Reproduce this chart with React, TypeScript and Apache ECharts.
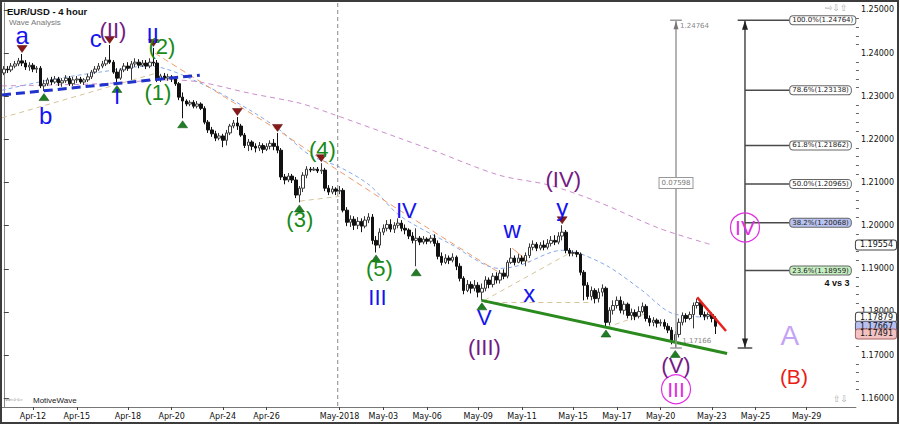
import React, { useEffect, useRef } from 'react';
import * as echarts from 'echarts';

// ---------- time axis ----------
const days = ['Apr-10','Apr-11','Apr-12','Apr-13','Apr-15','Apr-16','Apr-17','Apr-18','Apr-19','Apr-20','Apr-22','Apr-23','Apr-24','Apr-25','Apr-26','Apr-27','Apr-29','Apr-30','May-2018','May-02','May-03','May-04','May-06','May-07','May-08','May-09','May-10','May-11','May-13','May-14','May-15','May-16','May-17','May-18','May-20','May-21','May-22','May-23','May-24','May-25','May-27','May-28','May-29','May-30','May-31'];
const barsPerDay = [2,6,6,6,2,6,6,6,6,6,2,6,6,6,6,6,2,6,6,6,6,6,2,6,6,6,6,6,2,6,6,6,6,6,2,6,6,6,6,6,2,6,6,6,6];
const axisDays = ['Apr-12','Apr-15','Apr-18','Apr-20','Apr-24','Apr-26','May-2018','May-03','May-06','May-09','May-11','May-15','May-17','May-20','May-23','May-25','May-29'];
const N_CAT = 234;

// ---------- price axis ----------
const Y_MIN = 1.15798;
const Y_MAX = 1.25162;
const majorTicks = [1.16,1.17,1.18,1.19,1.2,1.21,1.22,1.23,1.24,1.25];
const minorTicks = [1.162,1.164,1.166,1.168,1.172,1.174,1.176,1.178,1.182,1.184,1.186,1.188,1.192,1.194,1.196,1.198,1.202,1.204,1.206,1.208,1.212,1.214,1.216,1.218,1.222,1.224,1.226,1.228,1.232,1.234,1.236,1.238,1.242,1.244,1.246,1.248];
const priceTags = [1.19554, 1.17879, 1.17667, 1.17491];
const tagFill = ['#ffffff', '#ffffff', '#b8c0f2', '#f3c3c3'];
const tagStroke = ['#444444', '#444444', '#555566', '#aa6666'];

// ---------- candles: [open, close, low, high] ----------
const candles = [
[1.2354,1.2363,1.2349,1.2370],[1.2363,1.2361,1.2354,1.2370],[1.2361,1.2370,1.2356,1.2377],[1.2370,1.2375,1.2365,1.2382],
[1.2375,1.2382,1.2370,1.2389],[1.2382,1.2377,1.2370,1.2398],[1.2377,1.2368,1.2361,1.2384],[1.2368,1.2372,1.2359,1.2379],
[1.2372,1.2363,1.2356,1.2377],[1.2363,1.2365,1.2354,1.2370],[1.2365,1.2324,1.2319,1.2370],[1.2324,1.2329,1.2312,1.2338],
[1.2329,1.2338,1.2324,1.2343],[1.2338,1.2333,1.2326,1.2345],[1.2333,1.2340,1.2329,1.2347],[1.2340,1.2331,1.2324,1.2345],
[1.2331,1.2336,1.2322,1.2342],[1.2336,1.2342,1.2331,1.2349],[1.2342,1.2329,1.2324,1.2347],[1.2329,1.2338,1.2324,1.2345],
[1.2338,1.2340,1.2331,1.2347],[1.2340,1.2333,1.2329,1.2345],[1.2333,1.2338,1.2326,1.2342],[1.2338,1.2345,1.2333,1.2352],
[1.2345,1.2356,1.2340,1.2361],[1.2356,1.2363,1.2352,1.2370],[1.2363,1.2370,1.2359,1.2377],[1.2370,1.2375,1.2365,1.2382],
[1.2375,1.2384,1.2370,1.2391],[1.2384,1.2379,1.2375,1.2419],[1.2379,1.2356,1.2352,1.2384],[1.2356,1.2342,1.2331,1.2365],
[1.2342,1.2361,1.2338,1.2365],[1.2361,1.2370,1.2356,1.2377],[1.2370,1.2365,1.2359,1.2379],[1.2365,1.2375,1.2338,1.2382],
[1.2375,1.2379,1.2368,1.2388],[1.2379,1.2372,1.2365,1.2386],[1.2372,1.2377,1.2368,1.2384],[1.2377,1.2370,1.2363,1.2384],
[1.2370,1.2379,1.2365,1.2388],[1.2379,1.2377,1.2370,1.2412],[1.2377,1.2338,1.2333,1.2384],[1.2338,1.2347,1.2333,1.2352],
[1.2347,1.2342,1.2338,1.2354],[1.2342,1.2345,1.2336,1.2352],[1.2345,1.2340,1.2333,1.2349],[1.2340,1.2329,1.2324,1.2347],
[1.2329,1.2298,1.2291,1.2333],[1.2298,1.2289,1.2249,1.2309],[1.2289,1.2282,1.2277,1.2293],[1.2282,1.2286,1.2277,1.2291],
[1.2286,1.2277,1.2272,1.2291],[1.2277,1.2282,1.2272,1.2289],[1.2282,1.2272,1.2268,1.2286],[1.2272,1.2240,1.2235,1.2277],
[1.2240,1.2222,1.2215,1.2245],[1.2222,1.2213,1.2206,1.2229],[1.2213,1.2203,1.2196,1.2220],[1.2203,1.2208,1.2198,1.2215],
[1.2208,1.2198,1.2182,1.2213],[1.2198,1.2215,1.2186,1.2222],[1.2215,1.2231,1.2210,1.2236],[1.2231,1.2238,1.2226,1.2245],
[1.2238,1.2231,1.2222,1.2252],[1.2231,1.2210,1.2206,1.2236],[1.2210,1.2186,1.2180,1.2215],[1.2186,1.2194,1.2173,1.2201],
[1.2194,1.2184,1.2175,1.2198],[1.2184,1.2180,1.2170,1.2191],[1.2180,1.2186,1.2173,1.2194],[1.2186,1.2177,1.2168,1.2191],
[1.2177,1.2184,1.2173,1.2191],[1.2184,1.2191,1.2177,1.2198],[1.2191,1.2184,1.2175,1.2201],[1.2184,1.2175,1.2168,1.2215],
[1.2175,1.2113,1.2106,1.2180],[1.2113,1.2106,1.2096,1.2120],[1.2106,1.2115,1.2101,1.2122],[1.2115,1.2106,1.2099,1.2120],
[1.2106,1.2071,1.2064,1.2113],[1.2071,1.2087,1.2054,1.2092],[1.2087,1.2117,1.2078,1.2124],[1.2117,1.2131,1.2110,1.2138],
[1.2131,1.2129,1.2124,1.2136],[1.2129,1.2131,1.2127,1.2136],[1.2131,1.2127,1.2122,1.2136],[1.2127,1.2129,1.2120,1.2145],
[1.2129,1.2087,1.2080,1.2134],[1.2087,1.2078,1.2071,1.2094],[1.2078,1.2085,1.2073,1.2092],[1.2085,1.2080,1.2071,1.2089],
[1.2080,1.2082,1.2073,1.2092],[1.2082,1.2036,1.2031,1.2087],[1.2036,1.2008,1.1999,1.2043],[1.2008,1.2015,1.1997,1.2024],
[1.2015,1.2001,1.1990,1.2022],[1.2001,1.2010,1.1992,1.2020],[1.2010,1.1999,1.1985,1.2017],[1.1999,1.2013,1.1994,1.2022],
[1.2013,1.2020,1.2006,1.2029],[1.2020,1.1966,1.1957,1.2027],[1.1966,1.1955,1.1938,1.1976],[1.1955,1.1985,1.1948,1.1994],
[1.1985,1.1994,1.1978,1.2003],[1.1994,1.2003,1.1987,1.2013],[1.2003,1.1992,1.1985,1.2015],[1.1992,1.2001,1.1983,1.2008],
[1.2001,1.2006,1.1994,1.2017],[1.2006,1.1994,1.1987,1.2013],[1.1994,1.1990,1.1980,1.2003],[1.1990,1.1976,1.1969,1.1994],
[1.1976,1.1966,1.1959,1.1985],[1.1966,1.1971,1.1906,1.1994],[1.1971,1.1962,1.1955,1.1976],[1.1962,1.1969,1.1957,1.1976],
[1.1969,1.1964,1.1957,1.1973],[1.1964,1.1971,1.1959,1.1978],[1.1971,1.1959,1.1952,1.1980],[1.1959,1.1929,1.1922,1.1966],
[1.1929,1.1915,1.1908,1.1938],[1.1915,1.1925,1.1911,1.1934],[1.1925,1.1920,1.1911,1.1931],[1.1920,1.1927,1.1915,1.1936],
[1.1927,1.1906,1.1897,1.1931],[1.1906,1.1878,1.1871,1.1913],[1.1878,1.1850,1.1841,1.1883],[1.1850,1.1864,1.1846,1.1874],
[1.1864,1.1855,1.1843,1.1871],[1.1855,1.1862,1.1848,1.1874],[1.1862,1.1846,1.1834,1.1869],[1.1846,1.1855,1.1827,1.1866],
[1.1855,1.1874,1.1848,1.1883],[1.1874,1.1864,1.1855,1.1880],[1.1864,1.1883,1.1857,1.1890],[1.1883,1.1874,1.1866,1.1892],
[1.1874,1.1890,1.1866,1.1897],[1.1890,1.1883,1.1876,1.1899],[1.1883,1.1915,1.1878,1.1920],[1.1915,1.1925,1.1911,1.1948],
[1.1925,1.1915,1.1908,1.1931],[1.1915,1.1925,1.1913,1.1934],[1.1925,1.1918,1.1911,1.1931],[1.1918,1.1931,1.1906,1.1938],
[1.1931,1.1950,1.1925,1.1959],[1.1950,1.1957,1.1943,1.1966],[1.1957,1.1948,1.1941,1.1962],[1.1948,1.1955,1.1943,1.1962],
[1.1955,1.1950,1.1943,1.1966],[1.1950,1.1959,1.1945,1.1969],[1.1959,1.1966,1.1952,1.1976],[1.1966,1.1962,1.1955,1.1978],
[1.1962,1.1976,1.1957,1.1985],[1.1976,1.1985,1.1966,1.2001],[1.1985,1.1943,1.1936,1.1990],[1.1943,1.1936,1.1929,1.1948],
[1.1936,1.1938,1.1929,1.1943],[1.1938,1.1934,1.1927,1.1943],[1.1934,1.1892,1.1885,1.1938],[1.1892,1.1862,1.1827,1.1897],
[1.1862,1.1836,1.1829,1.1869],[1.1836,1.1850,1.1827,1.1859],[1.1850,1.1831,1.1820,1.1855],[1.1831,1.1846,1.1822,1.1855],
[1.1846,1.1855,1.1836,1.1864],[1.1855,1.1776,1.1764,1.1859],[1.1776,1.1804,1.1769,1.1811],[1.1804,1.1815,1.1794,1.1827],
[1.1815,1.1827,1.1808,1.1836],[1.1827,1.1804,1.1797,1.1836],[1.1804,1.1818,1.1794,1.1825],[1.1818,1.1792,1.1785,1.1822],
[1.1792,1.1799,1.1781,1.1808],[1.1799,1.1790,1.1781,1.1806],[1.1790,1.1801,1.1785,1.1813],[1.1801,1.1813,1.1797,1.1822],
[1.1813,1.1785,1.1778,1.1818],[1.1785,1.1776,1.1767,1.1792],[1.1776,1.1781,1.1767,1.1788],[1.1781,1.1774,1.1764,1.1785],
[1.1774,1.1776,1.1767,1.1783],[1.1776,1.1767,1.1760,1.1783],[1.1767,1.1758,1.1751,1.1774],[1.1758,1.1734,1.1725,1.1765],
[1.1734,1.1748,1.1717,1.1755],[1.1748,1.1776,1.1741,1.1785],[1.1776,1.1792,1.1769,1.1799],[1.1792,1.1785,1.1776,1.1797],
[1.1785,1.1794,1.1781,1.1801],[1.1794,1.1815,1.1762,1.1822],[1.1815,1.1822,1.1808,1.1831],[1.1822,1.1794,1.1788,1.1827],
[1.1794,1.1790,1.1781,1.1801],[1.1790,1.1794,1.1783,1.1799],[1.1794,1.1785,1.1776,1.1799],[1.1785,1.1767,1.1749,1.1790],
];

// ---------- overlay lines: [bar position, price] ----------
const maSlow = [[-0.5,1.2324],[26.3,1.2329],[45.5,1.2338],[53.7,1.2333],[67.4,1.2307],[81.1,1.2284],[89.3,1.2261],[108.4,1.2203],[117.5,1.2175],[135.8,1.2117],[149.5,1.2094],[163.2,1.2054],[179.6,1.1994],[194.1,1.19554]];
const maFast = [[-0.5,1.2314],[12.6,1.2338],[26.3,1.2356],[40.0,1.2370],[53.7,1.2331],[67.4,1.2268],[75.6,1.2222],[83.8,1.2164],[92.0,1.2136],[100.2,1.2094],[108.4,1.2024],[122.1,1.1959],[135.8,1.1901],[141.3,1.1908],[153.0,1.1943],[157.7,1.1936],[165.9,1.1904],[174.9,1.1850],[183.1,1.1797],[194.1,1.17879]];
const maOrange = [[41.4,1.2400],[61.9,1.2291],[75.0,1.2222],[87.3,1.2152],[108.4,1.2036],[137.7,1.1881]];
const waveLinks = [
  [[-0.5,1.2250],[42.7,1.2356]],
  [[81.1,1.2057],[92.0,1.2068]],
  [[131.7,1.1827],[154.9,1.1936]],
  [[131.7,1.1822],[160.4,1.1822]],
  [[165.1,1.1764],[176.8,1.1799]],
];
const wLink = [[139.3,1.1948],[144.0,1.1915]];
const trendBlue = [[-0.5,1.2303],[53.7,1.2349]];
const trendGreen = [[130.9,1.1827],[198.2,1.1704]];
const trendRed = [[190.0,1.1834],[197.9,1.1756]];
const monthBreak = 91.5;

// ---------- wave markers ----------
const peakMarks = [[5,1.2398],[29,1.2419],[41,1.2412],[64,1.2252],[75,1.2215],[87,1.2145],[153,1.2001]];
const troughMarks = [[11,1.2312],[31,1.2331],[49,1.2249],[81,1.2054],[102,1.1938],[113,1.1906],[131,1.1827],[165,1.1764],[184,1.17166]];

// ---------- wave labels: text, bar position, price, colour, size ----------
const waveLabels: [string, number, number, string, number][] = [
  ['a', 5.0, 1.2440, 'blue', 24],
  ['b', 11.5, 1.2256, 'blue', 24],
  ['c', 25.2, 1.2435, 'blue', 24],
  ['(II)', 29.9, 1.2452, 'purple', 22],
  ['II', 40.8, 1.2440, 'blue', 22],
  ['(2)', 43.3, 1.2416, 'green', 22],
  ['I', 31.0, 1.2300, 'blue', 22],
  ['(1)', 42.2, 1.2309, 'green', 22],
  ['(3)', 81.1, 1.2015, 'green', 22],
  ['(4)', 87.3, 1.2177, 'green', 22],
  ['(5)', 102.9, 1.1901, 'green', 22],
  ['III', 102.4, 1.1834, 'blue', 22],
  ['IV', 110.3, 1.2036, 'blue', 22],
  ['V', 131.7, 1.1788, 'blue', 22],
  ['(III)', 131.7, 1.1718, 'purple', 22],
  ['w', 139.3, 1.1992, 'blue', 24],
  ['x', 144.0, 1.1844, 'blue', 24],
  ['y', 153.0, 1.2043, 'blue', 24],
  ['(IV)', 153.3, 1.2108, 'purple', 22],
  ['(V)', 184.2, 1.1676, 'purple', 22],
  ['A', 215.4, 1.1746, 'lilac', 28],
  ['(B)', 216.5, 1.1651, 'red', 21],
];
const circledLabels: [string, number, number][] = [['III', 184.2, 1.1621], ['IV', 203.1, 1.1996]];

// ---------- fibonacci & measure ----------
const fibHigh = 1.24764;
const fibLow = 1.17166;
const fibLevels = [1.24764, 1.23138, 1.21862, 1.20965, 1.20068, 1.18959];
const fibPct = ['100.0%', '78.6%', '61.8%', '50.0%', '38.2%', '23.6%'];
const fibBg = ['#ffffff', '#ffffff', '#ffffff', '#ffffff', '#b9c3f1', '#c6f0c2'];
const fibX = 203.1;
const fibEndX = 215.2;
const measureX = 184.2;
const measureRange = '0.07598';

const COLORS: Record<string, string> = {
  blue: '#1414ee', purple: '#741a84', green: '#178a17', magenta: '#e02ee0', lilac: '#c4a2f4', red: '#ea1c18',
};
const FONT = "'Liberation Sans', Arial, sans-serif";
const SMALL = "'DejaVu Sans', Verdana, sans-serif";
const CLEAR = { color: 'rgba(0,0,0,0)', opacity: 1 };

function buildOption() {
  const categories: string[] = [];
  days.forEach((d, k) => { for (let h = 0; h < barsPerDay[k]; h++) categories.push(d + ' ' + h); });
  categories.length = N_CAT;
  const labelIdx = new Set<number>();
  categories.forEach((c, i) => { const [d, h] = c.split(' '); if (h === '0' && axisDays.includes(d)) labelIdx.add(i); });
  const showIdx = (i: number) => labelIdx.has(i);

  const seg = (data: number[][], color: string, width: number, type: any, z = 3, smooth: any = false) => ({
    type: 'line', xAxisIndex: 1, yAxisIndex: 0, data, showSymbol: false, symbol: 'none', smooth, silent: true, z,
    lineStyle: { color, width, type, opacity: 1 }, emphasis: { disabled: true },
  });

  const series: any[] = [];
  series.push(seg(maSlow, '#cc8ccc', 1, [5, 4], 1, 0.3));
  series.push(seg(maFast, '#86a9ea', 1, [4, 3], 1, 0.3));
  series.push(seg(maOrange, '#f09a68', 1, [6, 4], 1, 0.2));
  waveLinks.forEach((l) => series.push(seg(l, '#d6c59a', 1, [5, 4], 1)));
  series.push(seg(wLink, '#f0a070', 1, 'solid', 1));
  series.push(seg([[monthBreak, Y_MAX], [monthBreak, Y_MIN]], '#8a8a8a', 1, [4, 3], 1));

  series.push({
    type: 'candlestick', xAxisIndex: 0, yAxisIndex: 0, data: candles, barWidth: 3, z: 2, silent: true,
    itemStyle: { color: '#ffffff', color0: '#111111', borderColor: '#3a3a3a', borderColor0: '#111111', borderWidth: 1 },
  });

  series.push(seg(trendBlue, '#1f33cc', 3, [9, 5], 4));
  series.push(seg(trendGreen, '#2a8a1e', 3, 'solid', 4));
  series.push(seg(trendRed, '#e8211d', 2.5, 'solid', 4));

  series.push(seg([[measureX, fibHigh], [measureX, fibLow]], '#9a9a9a', 1.5, 'solid', 4));
  series.push(seg([[measureX - 1.6, fibHigh], [measureX + 1.6, fibHigh]], '#9a9a9a', 1.5, 'solid', 4));
  series.push(seg([[measureX - 1.6, fibLow], [measureX + 1.6, fibLow]], '#9a9a9a', 1.5, 'solid', 4));
  series.push(seg([[fibX, fibHigh], [fibX, fibLow]], '#4a4a4a', 1.5, 'solid', 4));
  series.push(seg([[fibX - 2, fibLow], [fibX + 2, fibLow]], '#4a4a4a', 1.5, 'solid', 4));
  fibLevels.forEach((lv, k) => {
    const x0 = k === 0 ? fibX - 2 : fibX;
    series.push(seg([[x0, lv], [fibEndX, lv]], '#4a4a4a', 1.5, 'solid', 4));
  });
  series.push({ type: 'scatter', xAxisIndex: 1, yAxisIndex: 0, silent: true, z: 5, symbol: 'triangle', symbolSize: [6, 9], symbolOffset: [0, 5],
    data: [[fibX, fibHigh]], itemStyle: { color: '#222', opacity: 1 } });
  series.push({ type: 'scatter', xAxisIndex: 1, yAxisIndex: 0, silent: true, z: 5, symbol: 'triangle', symbolSize: [6, 9], symbolOffset: [0, -5], symbolRotate: 180,
    data: [[fibX, fibLow]], itemStyle: { color: '#222', opacity: 1 } });
  series.push({ type: 'scatter', xAxisIndex: 1, yAxisIndex: 0, silent: true, z: 5, symbol: 'triangle', symbolSize: [5, 8], symbolOffset: [0, 5],
    data: [[measureX, fibHigh]], itemStyle: { color: '#777', opacity: 1 } });

  series.push({
    type: 'scatter', xAxisIndex: 1, yAxisIndex: 0, silent: true, z: 6, symbolSize: 0.1, itemStyle: CLEAR,
    data: fibLevels.map((lv, k) => ({
      value: [fibEndX, lv],
      label: {
        show: true, position: 'right', distance: 1, formatter: fibPct[k] + '(' + lv.toFixed(5) + ')',
        fontFamily: SMALL, fontSize: 7, color: '#222', backgroundColor: fibBg[k], borderColor: '#666', borderWidth: 1,
        borderRadius: 3, padding: [1, 2, 0, 2],
      },
    })),
  });

  series.push({
    type: 'scatter', xAxisIndex: 1, yAxisIndex: 0, silent: true, z: 6, symbolSize: 0.1, itemStyle: CLEAR,
    data: [
      { value: [185.3, 1.2463], label: { show: true, position: 'right', distance: 0, formatter: fibHigh.toFixed(5), fontFamily: SMALL, fontSize: 7, color: '#888' } },
      { value: [185.9, 1.1732], label: { show: true, position: 'right', distance: 0, formatter: fibLow.toFixed(5), fontFamily: SMALL, fontSize: 7, color: '#888' } },
      { value: [measureX, 1.2099], label: { show: true, position: 'inside', formatter: measureRange, fontFamily: SMALL, fontSize: 7, color: '#777',
        backgroundColor: '#fff', borderColor: '#999', borderWidth: 1, padding: [2, 2, 1, 2] } },
      { value: [228.3, 1.1867], label: { show: true, position: 'inside', formatter: '4 vs 3', fontFamily: FONT, fontSize: 9, fontWeight: 'bold', color: '#111' } },
    ],
  });

  series.push({ type: 'scatter', xAxisIndex: 1, yAxisIndex: 0, silent: true, z: 6, symbol: 'triangle', symbolSize: [10, 7], symbolOffset: [0, -5], symbolRotate: 180,
    data: peakMarks, itemStyle: { color: '#861818', borderColor: '#5a0f0f', borderWidth: 0.5, opacity: 1 } });
  series.push({ type: 'scatter', xAxisIndex: 1, yAxisIndex: 0, silent: true, z: 6, symbol: 'triangle', symbolSize: [10, 7], symbolOffset: [0, 6],
    data: troughMarks, itemStyle: { color: '#1f7d24', borderColor: '#0f4d12', borderWidth: 0.5, opacity: 1 } });

  series.push({
    type: 'scatter', xAxisIndex: 1, yAxisIndex: 0, silent: true, z: 7, symbolSize: 0.1, itemStyle: CLEAR,
    data: waveLabels.map(([t, x, y, c, s]) => ({
      value: [x, y],
      label: { show: true, position: 'inside', formatter: t, fontFamily: FONT, fontSize: s, lineHeight: Math.round(s * 0.6), color: COLORS[c] },
    })),
  });
  series.push({
    type: 'scatter', xAxisIndex: 1, yAxisIndex: 0, silent: true, z: 7, symbol: 'circle', symbolSize: 29,
    itemStyle: { color: 'rgba(255,255,255,0)', borderColor: COLORS.magenta, borderWidth: 1.2, opacity: 1 },
    data: circledLabels.map(([t, x, y]) => ({
      value: [x, y],
      label: { show: true, position: 'inside', formatter: t, fontFamily: FONT, fontSize: 21, lineHeight: 15, color: COLORS.magenta },
    })),
  });

  const tagAxes = priceTags.map((v, k) => ({
    type: 'value', position: 'right', min: Y_MIN, max: Y_MAX,
    axisLine: { show: false }, axisTick: { show: false }, splitLine: { show: false },
    axisLabel: {
      show: true, customValues: [v], margin: 0, formatter: (x: number) => x.toFixed(5),
      backgroundColor: tagFill[k], borderColor: tagStroke[k], borderWidth: 1, borderRadius: 2, padding: [1, 3, 0, 4],
      fontFamily: SMALL, fontSize: 8, lineHeight: 8, color: '#111',
    },
  }));

  return {
    animation: false,
    backgroundColor: '#ffffff',
    grid: { left: 2, right: 43, top: 3, bottom: 18, containLabel: false },
    xAxis: [
      {
        type: 'category', data: categories, boundaryGap: true, position: 'bottom',
        axisLine: { show: true, lineStyle: { color: '#777', width: 1 } },
        axisTick: { show: true, alignWithLabel: true, interval: showIdx, length: 3, lineStyle: { color: '#444' } },
        axisLabel: { show: true, interval: showIdx, formatter: (v: string) => v.split(' ')[0], fontFamily: SMALL, fontSize: 8, color: '#111', margin: 5 },
        splitLine: { show: false },
      },
      { type: 'value', min: -0.5, max: N_CAT - 0.5, show: false, position: 'top' },
    ],
    yAxis: [
      {
        type: 'value', position: 'right', min: Y_MIN, max: Y_MAX,
        axisLine: { show: true, lineStyle: { color: '#888', width: 1 } },
        axisTick: { show: true, customValues: majorTicks, length: 5, lineStyle: { color: '#444' } },
        axisLabel: { show: true, customValues: majorTicks, formatter: (v: number) => v.toFixed(5), fontFamily: SMALL, fontSize: 8, color: '#111', margin: 5 },
        splitLine: { show: false },
      },
      {
        type: 'value', position: 'right', min: Y_MIN, max: Y_MAX,
        axisLine: { show: false },
        axisTick: { show: true, customValues: minorTicks, length: 3, lineStyle: { color: '#666' } },
        axisLabel: { show: false },
        splitLine: { show: false },
      },
      ...tagAxes,
    ],
    series,
    graphic: [
      { type: 'text', left: 7, top: 6, z: 50, style: { text: 'EUR/USD - 4 hour', fontFamily: FONT, fontSize: 9.5, fontWeight: 'bold', fill: '#111' } },
      { type: 'text', left: 9, top: 18, z: 50, style: { text: 'Wave Analysis', fontFamily: FONT, fontSize: 8, fill: '#777' } },
      { type: 'text', left: 825, top: 3, z: 50, style: { text: '⇨⇩⇧', fontFamily: SMALL, fontSize: 9, fill: '#aaa' } },
      { type: 'text', left: 833, top: 394, z: 50, style: { text: '⇧⇩', fontFamily: SMALL, fontSize: 9, fill: '#aaa' } },
      { type: 'text', left: 5, top: 396, z: 50, style: { text: '⇔⇨⇦', fontFamily: SMALL, fontSize: 7, fill: '#999' } },
      { type: 'text', left: 33, top: 396, z: 50, style: { text: 'MotiveWave', fontFamily: FONT, fontSize: 8, fill: '#222' } },
      { type: 'rect', z: 60, silent: true, shape: { x: 1, y: 1, width: 897, height: 422 }, style: { fill: 'none', stroke: '#3c3c3c', lineWidth: 2 } },
    ],
  };
}

export default function App() {
  const ref = useRef<HTMLDivElement>(null);
  useEffect(() => {
    if (!ref.current) return;
    const chart = echarts.init(ref.current, undefined, { renderer: 'svg' });
    chart.setOption(buildOption() as any);
    return () => chart.dispose();
  }, []);
  return <div ref={ref} style={{ position: 'fixed', left: 0, top: 0, width: 900, height: 425, background: '#fff' }} />;
}
